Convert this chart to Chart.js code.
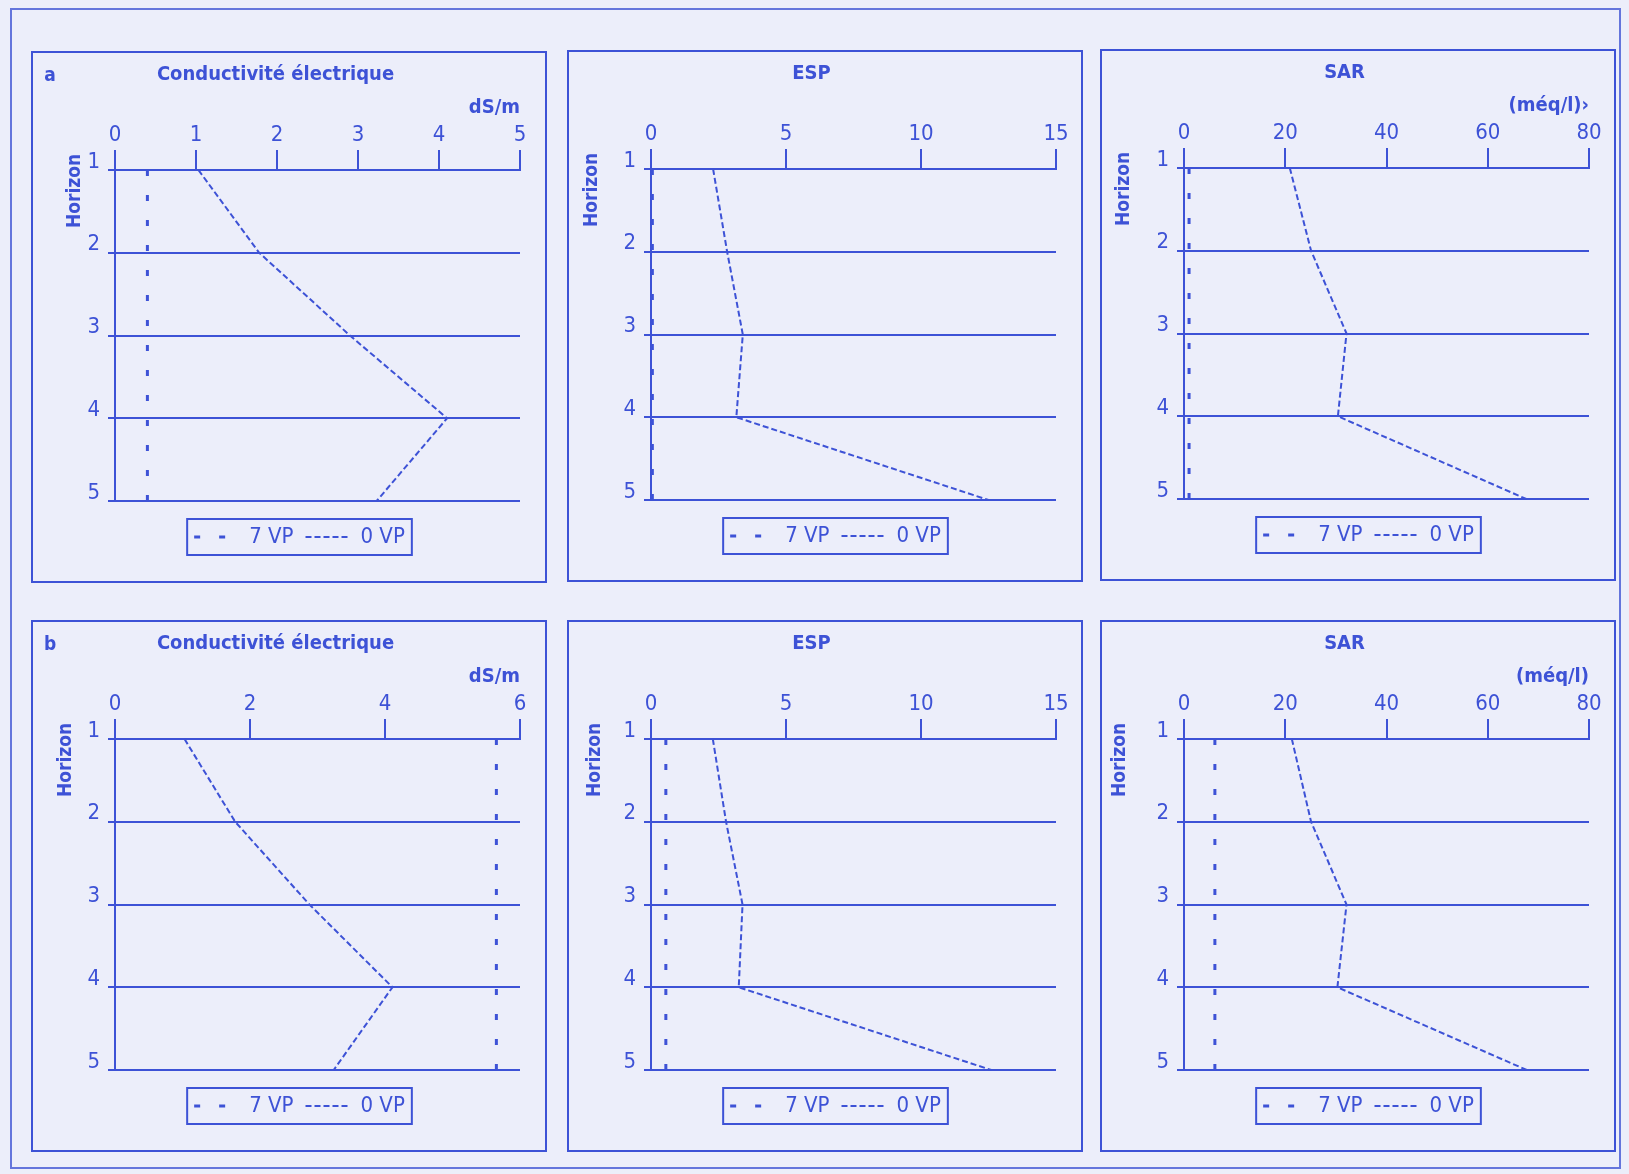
<!DOCTYPE html>
<html lang="fr">
<head>
<meta charset="utf-8">
<title>Conductivité électrique, ESP et SAR par horizon</title>
<script src="https://cdn.jsdelivr.net/npm/chart.js@4.4.1/dist/chart.umd.min.js"></script>
<style>
html, body { margin: 0; padding: 0; background: #eceefa; }
body { width: 1629px; height: 1174px; position: relative; overflow: hidden; }
#frame { position: absolute; left: 10px; top: 8px; width: 1611px; height: 1161px; border: 2px solid #6475dc; box-sizing: border-box; }
.panel { position: absolute; width: 516px; height: 532px; box-shadow: inset 0 0 0 2px #3d52d6; }
.panel canvas { display: block; }
</style>
</head>
<body>
<div id="frame"></div>
<div class="panel" style="left:31px;top:51px"><canvas id="ceA"></canvas></div>
<div class="panel" style="left:567px;top:50px"><canvas id="espA"></canvas></div>
<div class="panel" style="left:1100px;top:49px"><canvas id="sarA"></canvas></div>
<div class="panel" style="left:31px;top:620px"><canvas id="ceB"></canvas></div>
<div class="panel" style="left:567px;top:620px"><canvas id="espB"></canvas></div>
<div class="panel" style="left:1100px;top:620px"><canvas id="sarB"></canvas></div>

<script>
/* DATA */

const horizons = [1, 2, 3, 4, 5];
const seriesNames = ["7 VP", "0 VP"];

// a
const ceA_7VP = [0.4, 0.4, 0.4, 0.4, 0.4];
const ceA_0VP = [1.03, 1.78, 2.9, 4.1, 3.23];
const espA_7VP = [0.05, 0.05, 0.05, 0.05, 0.05];
const espA_0VP = [2.3, 2.82, 3.4, 3.16, 12.5];
const sarA_7VP = [1, 1, 1, 1, 1];
const sarA_0VP = [20.9, 25.1, 32.1, 30.4, 67.6];

// b
const ceB_7VP = [5.65, 5.65, 5.65, 5.65, 5.65];
const ceB_0VP = [1.03, 1.78, 2.88, 4.11, 3.24];
const espB_7VP = [0.55, 0.55, 0.55, 0.55, 0.55];
const espB_0VP = [2.29, 2.78, 3.39, 3.25, 12.6];
const sarB_7VP = [6.1, 6.1, 6.1, 6.1, 6.1];
const sarB_0VP = [21.3, 25.1, 32.1, 30.3, 67.7];

/* STYLE */

const INK = "#3d52d6";
const FONT = "'Liberation Sans Narrow', 'DejaVu Sans Condensed', 'Arial Narrow', sans-serif";

Chart.defaults.font.family = FONT;
Chart.defaults.color = INK;

function points(values) {
  return values.map((v, i) => ({ x: v, y: horizons[i] }));
}

// panel letter, "Horizon" label and frame around the legend
const panelExtras = {
  id: "panelExtras",
  afterLayout(chart, args, opts) {
    // the legend sits a little left of the plot centre in the original
    chart.legend.left += opts.legendShift;
    chart.legend.right += opts.legendShift;
  },
  afterDraw(chart, args, opts) {
    const ctx = chart.ctx;
    const boxes = chart.legend.legendHitBoxes;
    ctx.save();
    ctx.fillStyle = INK;
    ctx.textAlign = "center";
    ctx.textBaseline = "middle";

    if (boxes && boxes.length) {
      const left = Math.min(...boxes.map(b => b.left)) - 7;
      const right = Math.max(...boxes.map(b => b.left + b.width)) + 7;
      const mid = boxes[0].top + boxes[0].height / 2;
      ctx.strokeStyle = INK;
      ctx.lineWidth = 2;
      ctx.strokeRect(left, mid - 18, right - left, 36);
    }

    if (opts.letter) {
      ctx.font = "bold 19px " + FONT;
      ctx.fillText(opts.letter, 19, 25);
    }

    ctx.font = "bold 19px " + FONT;
    ctx.translate(opts.hx, opts.hy);
    ctx.rotate(-Math.PI / 2);
    ctx.fillText("Horizon", 0, 0);
    ctx.restore();
  }
};

function legendLabels(chart) {
  const items = Chart.defaults.plugins.legend.labels.generateLabels(chart);
  items.forEach(item => {
    const ds = chart.data.datasets[item.datasetIndex];
    item.lineDash = ds.borderDash;
    item.lineWidth = ds.borderWidth;
  });
  return items;
}

function drawProfile(id, title, letter, unit, xMax, xStep, vp7, vp0, hx) {

  const ctx = document.getElementById(id).getContext("2d");

  new Chart(ctx, {

    type: "scatter",

    data: {
      datasets: [{
        label: seriesNames[0],
        data: points(vp7),
        showLine: true,
        borderColor: INK,
        backgroundColor: INK,
        borderWidth: 3,
        borderDash: [6, 19],
        pointRadius: 0,
        clip: false
      }, {
        label: seriesNames[1],
        data: points(vp0),
        showLine: true,
        borderColor: INK,
        backgroundColor: INK,
        borderWidth: 2,
        borderDash: [6, 3],
        pointRadius: 0,
        clip: false
      }]
    },

    options: {
      responsive: true,
      maintainAspectRatio: false,
      animation: false,
      events: [],
      layout: {
        padding: { left: 0, right: 27, top: 0, bottom: 25 }
      },
      plugins: {
        title: {
          display: true,
          text: title,
          color: INK,
          font: { size: 20, weight: "bold" },
          padding: { top: 12, bottom: 0 }
        },
        legend: {
          position: "bottom",
          fullSize: false,
          title: {
            display: true,
            text: "",
            font: { size: 10 },
            padding: { top: 0, bottom: 1 }
          },
          labels: {
            usePointStyle: true,
            pointStyle: "line",
            pointStyleWidth: 44,
            padding: 12,
            color: INK,
            font: { size: 22 },
            generateLabels: legendLabels
          }
        },
        tooltip: { enabled: false },
        panelExtras: { letter: letter, hx: hx, hy: 140, legendShift: -18 }
      },
      scales: {
        x: {
          type: "linear",
          position: "top",
          min: 0,
          max: xMax,
          afterFit: s => { s.height = 83; },
          ticks: { stepSize: xStep, padding: 2, color: INK, font: { size: 22 } },
          grid: { color: INK, lineWidth: 2, tickLength: 20, drawOnChartArea: false },
          border: { color: INK, width: 2 },
          title: {
            display: !!unit,
            text: unit,
            align: "end",
            color: INK,
            font: { size: 20, weight: "bold" },
            padding: { top: 9, bottom: 0 }
          }
        },
        y: {
          type: "linear",
          min: 1,
          max: 5,
          reverse: true,
          afterFit: s => { s.width = 84; },
          ticks: { stepSize: 1, padding: 8, labelOffset: -8, color: INK, font: { size: 22 } },
          grid: { color: INK, lineWidth: 2, tickLength: 7 },
          border: { color: INK, width: 2 }
        }
      }
    },

    plugins: [panelExtras]

  });

}

document.addEventListener("DOMContentLoaded", function () {

  drawProfile("ceA", "Conductivité électrique", "a", "dS/m", 5, 1, ceA_7VP, ceA_0VP, 44);
  drawProfile("espA", "ESP", "", "", 15, 5, espA_7VP, espA_0VP, 25);
  drawProfile("sarA", "SAR", "", "(méq/l)›", 80, 20, sarA_7VP, sarA_0VP, 24);

  drawProfile("ceB", "Conductivité électrique", "b", "dS/m", 6, 2, ceB_7VP, ceB_0VP, 35);
  drawProfile("espB", "ESP", "", "", 15, 5, espB_7VP, espB_0VP, 28);
  drawProfile("sarB", "SAR", "", "(méq/l)", 80, 20, sarB_7VP, sarB_0VP, 20);

});
</script>
</body>
</html>
